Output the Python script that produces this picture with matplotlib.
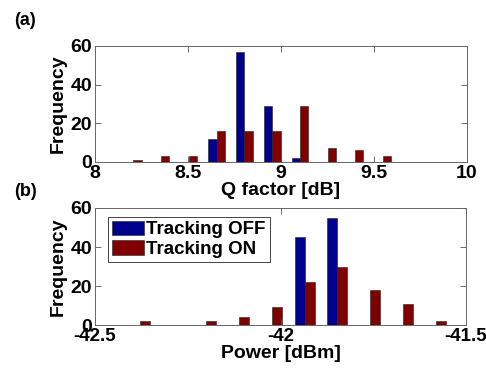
import matplotlib
matplotlib.use("Agg")
import matplotlib.pyplot as plt
import numpy as np

# Panel (a): Q factor histogram (bin centres, counts)
q_bins = [8.206, 8.355, 8.505, 8.655, 8.803, 8.953, 9.102, 9.250, 9.398, 9.548]
q_off = [0, 0, 0, 12, 57, 29, 2, 0, 0, 0]
q_on = [1, 3, 3, 16, 16, 16, 29, 7, 6, 3]

# Panel (b): received power histogram
p_bins = [-42.378, -42.289, -42.201, -42.112, -42.024, -41.935, -41.847, -41.758, -41.670, -41.581]
p_off = [0, 0, 0, 0, 0, 45, 55, 0, 0, 0]
p_on = [2, 0, 2, 4, 9, 22, 30, 18, 11, 2]

c_off = '#00008f'
c_on = '#800000'

plt.rcParams['font.family'] = ['Liberation Sans', 'DejaVu Sans']
plt.rcParams['font.weight'] = 'bold'
plt.rcParams['font.size'] = 14

fig = plt.figure(figsize=(4.86, 3.68), dpi=100)
ax1 = fig.add_axes([0.1955, 0.5598, 0.7654, 0.3152])
ax2 = fig.add_axes([0.1955, 0.1168, 0.7634, 0.318])


def hbars(ax, centers, off, on, w):
    centers = np.array(centers)
    ax.bar(centers - w / 2, off, width=w, color=c_off, edgecolor='#202020',
           linewidth=0.4, label='Tracking OFF')
    ax.bar(centers + w / 2, on, width=w, color=c_on, edgecolor='#202020',
           linewidth=0.4, label='Tracking ON')


hbars(ax1, q_bins, q_off, q_on, 0.045)
hbars(ax2, p_bins, p_off, p_on, 0.027)

ax1.set_xlim(8, 10)
ax1.set_xticks([8, 8.5, 9, 9.5, 10])
ax1.set_xticklabels(['8', '8.5', '9', '9.5', '10'])
ax1.set_xlabel('Q factor [dB]', fontweight='bold', labelpad=0)

ax2.set_xlim(-42.5, -41.5)
ax2.set_xticks([-42.5, -42, -41.5])
ax2.set_xticklabels(['-42.5', '-42', '-41.5'])
ax2.set_xlabel('Power [dBm]', fontweight='bold', labelpad=0)

for ax in (ax1, ax2):
    ax.set_ylim(0, 60)
    ax.set_yticks([0, 20, 40, 60])
    ax.set_ylabel('Frequency', fontweight='bold', labelpad=3)
    ax.tick_params(direction='in', length=4, width=0.6, top=True, right=True,
                   color='#555555', pad=2)
    for s in ax.spines.values():
        s.set_color('#666666')
        s.set_linewidth(0.7)
ax2.tick_params(axis='x', labelsize=13.5)

leg = ax2.legend(loc='upper left', bbox_to_anchor=(0.035, 0.925), fontsize=13.5,
                 handlelength=1.7, handleheight=0.85, handletextpad=0.15,
                 borderpad=0.2, labelspacing=0.1, fancybox=False, framealpha=1,
                 borderaxespad=0)
leg.get_frame().set_edgecolor('#444444')
leg.get_frame().set_linewidth(0.7)

fig.text(0.03, 0.945, '(a)', fontsize=13, fontweight='bold', va='center')
fig.text(0.03, 0.48, '(b)', fontsize=13, fontweight='bold', va='center')

fig.savefig('out.png', dpi=100)
